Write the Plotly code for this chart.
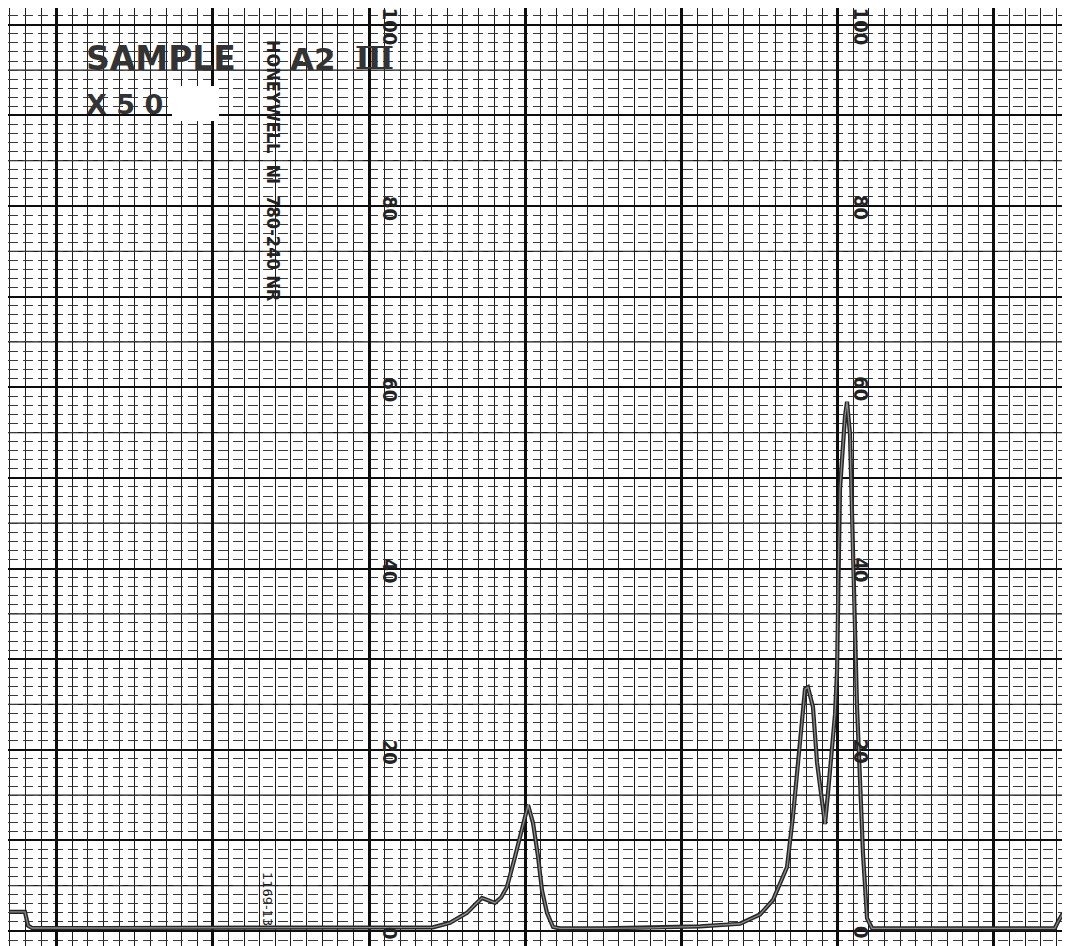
import plotly.graph_objects as go

# chart divisions (x) and recorder response in % of full scale (y)
time_div = [0.0, 0.97, 1.17, 1.42, 6.0, 12.0, 19.0, 25.0, 27.09, 28.18, 29.27, 29.78,
            30.23, 30.61, 31.06, 31.45, 31.83, 32.34, 32.79, 33.18, 33.50, 33.82,
            34.07, 34.39, 34.78, 35.22, 38.0, 41.0, 44.19, 46.75, 48.03, 48.86,
            49.76, 50.14, 50.46, 50.72, 50.91, 51.10, 51.42, 51.68, 52.00, 52.19,
            52.39, 52.83, 52.96, 53.03, 53.15, 53.47, 53.60, 53.79, 53.98, 54.24,
            54.43, 54.62, 54.88, 55.20, 57.0, 63.0, 66.9, 67.10, 67.36, 67.87]
response = [2.1, 2.1, 0.6, 0.33, 0.33, 0.33, 0.33, 0.33, 0.4, 0.9, 2.0, 2.9,
            3.64, 3.4, 3.1, 3.7, 4.86, 8.17, 11.1, 13.9, 11.9, 8.2,
            4.5, 2.0, 0.44, 0.3, 0.3, 0.35, 0.5, 0.8, 1.82, 3.42,
            7.06, 12.7, 18.3, 22.7, 26.7, 26.9, 24.7, 18.6, 14.7, 11.8,
            15.4, 23.9, 28.7, 38.7, 48.8, 56.8, 58.4, 54.8, 40.7, 24.7,
            16.7, 8.6, 1.4, 0.3, 0.3, 0.3, 0.3, 1.0, 1.77, 1.77]

scale_labels = ["100", "80", "60", "40", "20", "0"]
scale_values = [100, 80, 60, 40, 20, 0]

OFF = 8                       # page body margin
W, H = 1070 - OFF, 946 - OFF
X0, DX = 9.8 - OFF, 15.62     # px of division 0, px per division
Y0, DY = 931.0 - OFF, 9.0625  # px of 0 %, px per %
xr = [(0 - X0) / DX, (W - X0) / DX]
yr = [(Y0 - H) / DY, Y0 / DY]

fig = go.Figure()
fig.add_trace(go.Scatter(x=time_div, y=response, mode="lines",
                         line=dict(color="#262626", width=4.2), hoverinfo="skip",
                         showlegend=False))
fig.add_trace(go.Scatter(x=time_div, y=response, mode="lines",
                         line=dict(color="#8a8a8a", width=1.3), hoverinfo="skip",
                         showlegend=False))

shapes = []
# medium lines every 5 %
for v in range(5, 101, 10):
    shapes.append(dict(type="line", xref="paper", x0=0, x1=1, yref="y", y0=v, y1=v,
                       line=dict(color="#1a1a1a", width=1.3), layer="below"))
# erased patch after "X 50"
shapes.append(dict(type="rect", xref="paper", yref="paper",
                   x0=(172 - OFF) / W, x1=(219 - OFF) / W,
                   y0=1 - (121 - OFF) / H, y1=1 - (86 - OFF) / H,
                   fillcolor="white", line=dict(width=0), layer="above"))

annotations = []
def px_ann(text, x, y, size, family="DejaVu Sans", bold=False, angle=0, color="#222"):
    annotations.append(dict(
        text=f"<b>{text}</b>" if bold else text, x=(x - OFF) / W, y=1 - (y - OFF) / H,
        xref="paper", yref="paper", showarrow=False, textangle=angle,
        xanchor="center", yanchor="middle",
        font=dict(family=family, size=size, color=color)))

px_ann("SAMPLE", 161, 59, 33, bold=True, color="#333")
px_ann("A2", 313, 59, 31, bold=True, color="#333")
px_ann("Ⅲ", 374, 58, 32, family="DejaVu Serif", bold=True, color="#333")
px_ann("X 5 0", 124, 104, 27, bold=True, color="#333")
px_ann("HONEYWELL  NI  780-240 NR", 274, 171, 18, family="DejaVu Sans Condensed",
       bold=True, angle=90, color="#222")
px_ann("1169-13", 268, 899, 13, angle=90, color="#222")

for lab, v in zip(scale_labels, scale_values):
    ypx = 931.0 - v * DY + 2
    for xc in (390, 861):
        px_ann(lab, xc, ypx, 20, family="DejaVu Sans Condensed", bold=True, angle=90,
               color="#222")

fig.update_layout(
    width=W, height=H, margin=dict(l=0, r=0, t=0, b=0),
    paper_bgcolor="white", plot_bgcolor="white",
    showlegend=False, shapes=shapes, annotations=annotations,
    xaxis=dict(range=xr, showticklabels=False, ticks="", zeroline=False,
               showgrid=True, tick0=3, dtick=10, gridcolor="#0d0d0d", gridwidth=2.6,
               minor=dict(tick0=0, dtick=1, showgrid=True, gridcolor="#1c1c1c",
                          gridwidth=1.4)),
    yaxis=dict(range=yr, showticklabels=False, ticks="", zeroline=False,
               showgrid=True, tick0=0, dtick=10, gridcolor="#0d0d0d", gridwidth=2.2,
               minor=dict(tick0=0, dtick=1, showgrid=True, gridcolor="#3a3a3a",
                          gridwidth=1.0, griddash="10px,5px")),
)

fig.write_html("out.html")
